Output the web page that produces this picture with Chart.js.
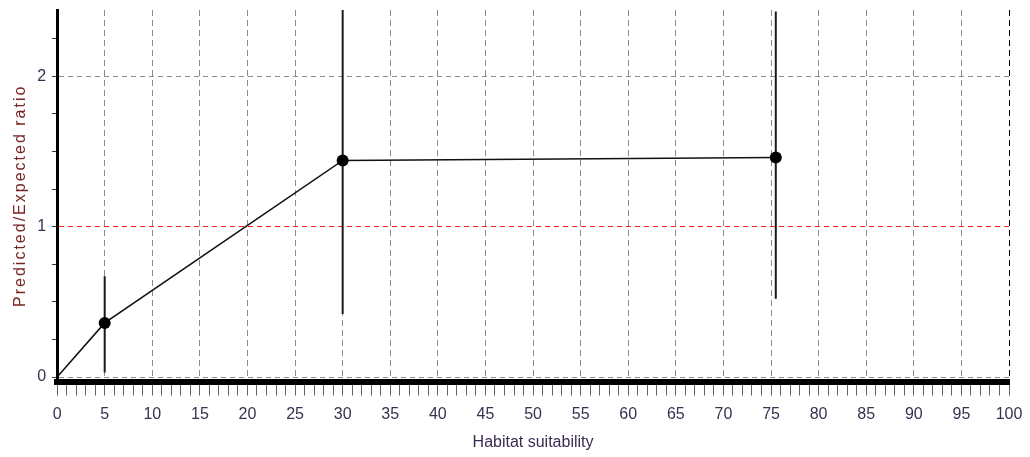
<!DOCTYPE html>
<html>
<head>
<meta charset="utf-8">
<script src="https://cdn.jsdelivr.net/npm/chart.js@4"></script>
<style>
  html, body { margin: 0; padding: 0; background: #fff; }
  #wrap { width: 1030px; height: 457px; }
</style>
</head>
<body>
<div id="wrap"><canvas id="myChart" width="1030" height="457"></canvas></div>
<script>
// habitat suitability classes and predicted/expected ratio
var suitability = [0, 5, 30, 75.5];
var ratio = [0, 0.36, 1.44, 1.46];
var ratioLow = [null, 0.03, 0.42, 0.52];
var ratioHigh = [null, 0.67, 2.6, 2.43];
var xLabelStep = 5;
var yLabels = [0, 1, 2];
var refLine = 1;

var points = suitability.map(function (x, i) { return { x: x, y: ratio[i] }; });

function near(a, b) { return Math.abs(a - b) < 1e-6; }

// vertical error bars, drawn through the scales
var errorBars = {
    id: 'errorBars',
    beforeDatasetsDraw: function (chart) {
        var ctx = chart.ctx, xs = chart.scales.x, ys = chart.scales.y, a = chart.chartArea;
        ctx.save();
        ctx.beginPath();
        ctx.rect(a.left, a.top, a.right - a.left, a.bottom - a.top);
        ctx.clip();
        ctx.strokeStyle = '#1a1a1a';
        ctx.lineWidth = 2;
        for (var i = 0; i < suitability.length; i++) {
            if (ratioLow[i] == null) continue;
            var px = xs.getPixelForValue(suitability[i]);
            ctx.beginPath();
            ctx.moveTo(px, ys.getPixelForValue(ratioLow[i]));
            ctx.lineTo(px, ys.getPixelForValue(ratioHigh[i]));
            ctx.stroke();
        }
        ctx.restore();
    }
};

// y title has spaced letters in the original
var spacedTitle = {
    id: 'spacedTitle',
    afterLayout: function (chart) {
        var sc = chart.scales.y;
        if (sc._patched) return;
        var orig = sc.drawTitle;
        sc.drawTitle = function () {
            var ctx = this.ctx;
            ctx.save();
            ctx.letterSpacing = '2px';
            orig.apply(this, arguments);
            ctx.restore();
        };
        sc._patched = true;
    }
};

var ctx = document.getElementById('myChart').getContext('2d');
var myChart = new Chart(ctx, {
    type: 'scatter',
    data: {
        datasets: [{
            data: points,
            showLine: true,
            borderColor: '#111',
            borderWidth: 1.6,
            backgroundColor: '#000',
            pointRadius: [2, 6, 6, 6],
            pointStyle: ['rect', 'circle', 'circle', 'circle'],
            pointBorderWidth: 0
        }]
    },
    options: {
        responsive: false,
        animation: false,
        layout: { padding: { top: 10, right: 21, left: 11, bottom: 5 } },
        plugins: { legend: { display: false }, tooltip: { enabled: false } },
        scales: {
            x: {
                type: 'linear',
                min: 0,
                max: 100,
                afterFit: function (scale) { scale.paddingRight = 0; },
                border: { display: true, color: '#000', width: 6, dash: [6, 4] },
                grid: {
                    color: function (c) {
                        if (!c.tick) return 'rgba(0,0,0,0)';
                        if (near(c.tick.value, 100)) return '#000';
                        return c.tick.value % xLabelStep === 0 && c.tick.value > 0 ? '#8a8a8a' : 'rgba(0,0,0,0)';
                    },
                    tickColor: '#666',
                    tickLength: 14,
                    tickWidth: 1
                },
                ticks: {
                    stepSize: 1,
                    autoSkip: false,
                    maxRotation: 0,
                    padding: 9,
                    color: '#3a3050',
                    font: { family: 'Liberation Sans', size: 16 },
                    callback: function (v) { return v % xLabelStep === 0 ? v : ''; }
                },
                title: {
                    display: true,
                    text: 'Habitat suitability',
                    color: '#3c2a52',
                    font: { family: 'Liberation Sans', size: 16 },
                    padding: { top: 0, bottom: 0 }
                }
            },
            y: {
                min: -0.03,
                max: 2.44,
                afterFit: function (scale) { scale.paddingTop = 0; },
                border: { display: true, color: '#000', width: 3, dash: [5, 4] },
                grid: {
                    color: function (c) {
                        if (!c.tick) return 'rgba(0,0,0,0)';
                        var v = c.tick.value;
                        if (near(v, refLine)) return '#ff2020';
                        if (near(v, 0) || near(v, 2)) return '#8a8a8a';
                        return 'rgba(0,0,0,0)';
                    },
                    tickColor: '#333',
                    tickLength: 5,
                    tickWidth: 1
                },
                ticks: {
                    stepSize: 0.25,
                    includeBounds: false,
                    padding: 6,
                    color: '#3a3050',
                    font: { family: 'Liberation Sans', size: 16 },
                    callback: function (v) { return yLabels.indexOf(v) >= 0 ? v : ''; }
                },
                title: {
                    display: true,
                    text: 'Predicted/Expected ratio',
                    color: '#7a2323',
                    font: { family: 'Liberation Sans', size: 16 },
                    padding: { top: 0, bottom: 1 }
                }
            }
        }
    },
    plugins: [errorBars, spacedTitle]
});
</script>
</body>
</html>
